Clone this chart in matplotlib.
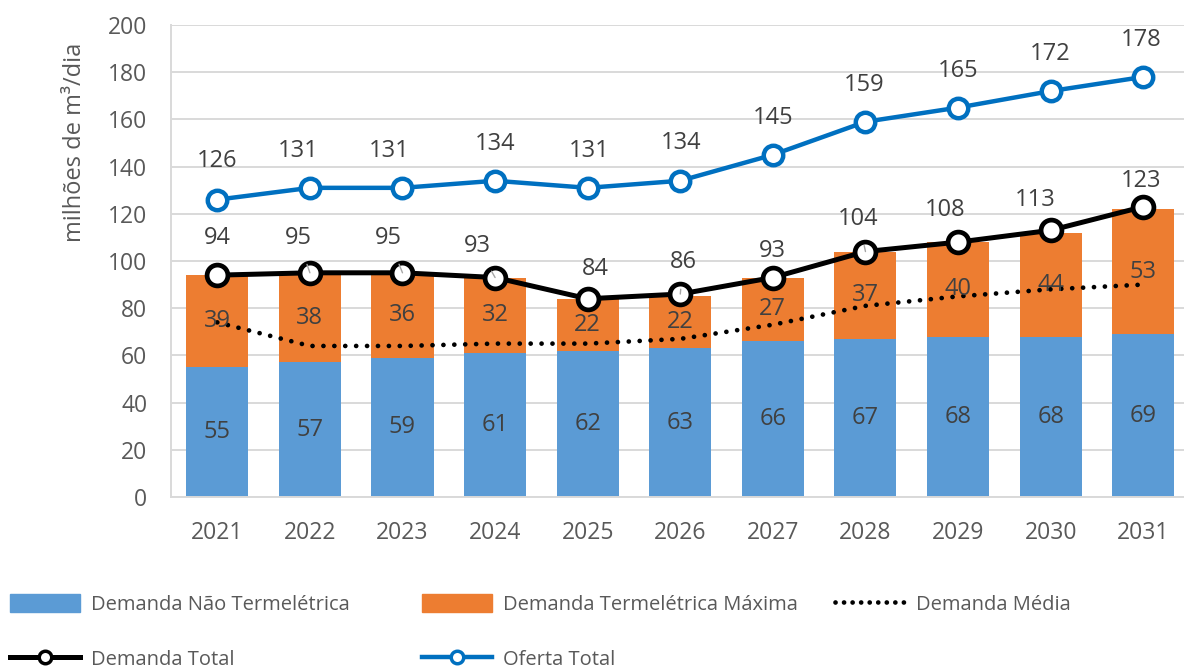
import numpy as np
import matplotlib
matplotlib.use("Agg")
import matplotlib.pyplot as plt
from matplotlib.lines import Line2D
from matplotlib.patches import Patch

BLUE_BAR = "#5B9BD5"
ORANGE_BAR = "#ED7D31"
OFERTA_BLUE = "#0070C0"
GRID = "#D9D9D9"
TXT = "#404040"

years = ["2021", "2022", "2023", "2024", "2025", "2026",
         "2027", "2028", "2029", "2030", "2031"]
nao_termo = [55, 57, 59, 61, 62, 63, 66, 67, 68, 68, 69]
termo_max = [39, 38, 36, 32, 22, 22, 27, 37, 40, 44, 53]
demanda_media = [74, 64, 64, 65, 65, 67, 73, 81, 85, 88, 90]
demanda_total = [94, 95, 95, 93, 84, 86, 93, 104, 108, 113, 123]
oferta_total = [126, 131, 131, 134, 131, 134, 145, 159, 165, 172, 178]

# label offsets in pixels (dx, dy up), leader line flag
total_offs = [(0, 37, 0), (-12, 35, 1), (-14, 35, 1), (-18, 32, 1), (8, 30, 0),
              (3, 32, 1), (0, 27, 0), (-7, 33, 1), (-13, 32, 0), (-15, 30, 0),
              (-2, 26, 0)]
oferta_offs = [(0, 39), (-12, 37), (-13, 37), (0, 37), (2, 37), (1, 38),
               (0, 37), (-1, 37), (0, 37), (-1, 37), (-2, 37)]

plt.rcParams["font.family"] = ["Open Sans", "DejaVu Sans"]

W, H = 1184, 669
fig = plt.figure(figsize=(W / 100, H / 100), dpi=100)
ax = fig.add_axes([171 / W, 1 - 497 / H, 1 - 171 / W, (497 - 25) / H])

x = np.arange(len(years))
bw = 0.67
ax.bar(x, nao_termo, width=bw, color=BLUE_BAR, zorder=2)
ax.bar(x, termo_max, width=bw, bottom=nao_termo, color=ORANGE_BAR, zorder=2)

ax.plot(x, demanda_media, color="black", lw=3.4, ls=(0, (0.01, 2.3)),
        dash_capstyle="round", zorder=3)
ax.plot(x, demanda_total, color="black", lw=3.6, marker="o", ms=15,
        mfc="white", mec="black", mew=3.4, zorder=4)
ax.plot(x, oferta_total, color=OFERTA_BLUE, lw=3.2, marker="o", ms=14,
        mfc="white", mec=OFERTA_BLUE, mew=3.2, zorder=5)

fs = 17
for i in range(len(years)):
    ax.text(x[i], nao_termo[i] / 2, str(nao_termo[i]), ha="center",
            va="center", fontsize=fs, color=TXT, zorder=6)
    ax.text(x[i], nao_termo[i] + termo_max[i] / 2, str(termo_max[i]),
            ha="center", va="center", fontsize=fs, color=TXT, zorder=6)
    dx, dy, lead = total_offs[i]
    ax.annotate(str(demanda_total[i]), (x[i], demanda_total[i]),
                xytext=(dx * 0.72, dy * 0.72), textcoords="offset points",
                ha="center", va="center", fontsize=fs, color=TXT, zorder=7,
                arrowprops=dict(arrowstyle="-", color="#A6A6A6", lw=1,
                                shrinkA=9, shrinkB=0) if lead else None)
    dx, dy = oferta_offs[i]
    ax.annotate(str(oferta_total[i]), (x[i], oferta_total[i]),
                xytext=(dx * 0.72, dy * 0.72), textcoords="offset points",
                ha="center", va="center", fontsize=fs, color=TXT, zorder=7)

ax.set_xlim(-0.5, 10.44)
ax.set_ylim(0, 200)
ax.set_yticks(np.arange(0, 201, 20))
ax.set_xticks(x, years)
ax.tick_params(length=0, labelsize=16.5, labelcolor="#595959")
ax.tick_params(axis="y", pad=17)
ax.tick_params(axis="x", pad=17)
ax.grid(axis="y", color=GRID, lw=1.4, zorder=0)
ax.set_axisbelow(True)
for s in ["top", "right"]:
    ax.spines[s].set_visible(False)
for s in ["left", "bottom"]:
    ax.spines[s].set_color(GRID)
    ax.spines[s].set_linewidth(1.4)

fig.text(75 / W, 1 - 142 / H, "milhões de m³/dia", rotation=90, ha="center",
         va="center", fontsize=17, color="#595959")

# legend: three columns placed by hand
h_blue = Patch(color=BLUE_BAR)
h_orange = Patch(color=ORANGE_BAR)
h_media = Line2D([], [], color="black", lw=3.4, ls=(0, (0.01, 1.8)),
                 dash_capstyle="round")
h_total = Line2D([], [], color="black", lw=3.6, marker="o", ms=9,
                 mfc="white", mec="black", mew=2.5)
h_oferta = Line2D([], [], color=OFERTA_BLUE, lw=3.2, marker="o", ms=9,
                  mfc="white", mec=OFERTA_BLUE, mew=2.5)

leg_kw = dict(loc="upper left", frameon=False, fontsize=14.5,
              handlelength=3.5, handleheight=1.0, handletextpad=0.5,
              labelspacing=1.7, borderaxespad=0, borderpad=0,
              labelcolor="#595959")
cols = [([h_blue, h_total], ["Demanda Não Termelétrica", "Demanda Total"], 10),
        ([h_orange, h_oferta], ["Demanda Termelétrica Máxima", "Oferta Total"], 422),
        ([h_media], ["Demanda Média"], 835)]
for hs, ls, px in cols:
    fig.legend(hs, ls, bbox_to_anchor=(px / W, 1 - 594 / H), **leg_kw)

fig.savefig("out.png", dpi=100)
